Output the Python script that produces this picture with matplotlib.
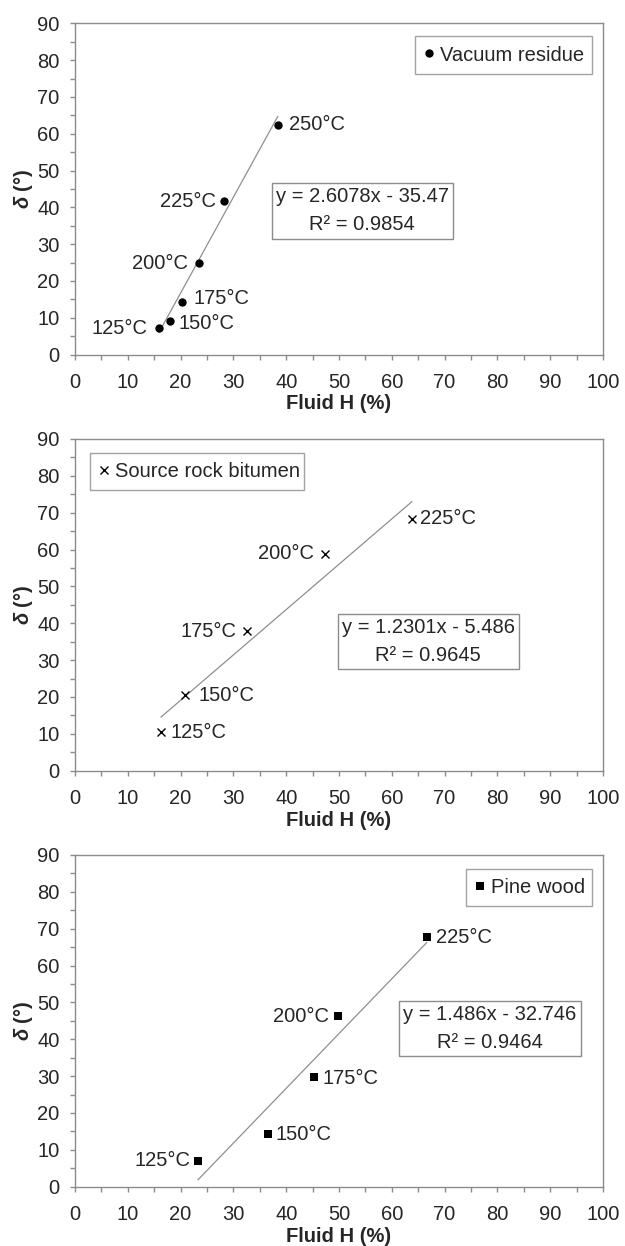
import matplotlib
matplotlib.use("Agg")
import matplotlib.pyplot as plt
import numpy as np
from matplotlib.ticker import MultipleLocator

FAM = 'Liberation Sans'
plt.rcParams['font.family'] = [FAM, 'DejaVu Sans']
plt.rcParams['mathtext.fontset'] = 'custom'
plt.rcParams['mathtext.it'] = FAM + ':italic:bold'
plt.rcParams['mathtext.rm'] = FAM + ':bold'
plt.rcParams['mathtext.bf'] = FAM + ':bold'

# ---------------- data ----------------
vr_temps = ["125°C", "150°C", "175°C", "200°C", "225°C", "250°C"]
vr_x = [15.9, 18.0, 20.3, 23.5, 28.2, 38.4]
vr_y = [7.3, 9.1, 14.2, 24.8, 41.7, 62.4]
vr_slope, vr_intercept, vr_r2 = 2.6078, -35.47, 0.9854
vr_eq = "y = 2.6078x - 35.47\nR² = 0.9854"

srb_temps = ["125°C", "150°C", "175°C", "200°C", "225°C"]
srb_x = [16.3, 20.8, 32.6, 47.4, 63.8]
srb_y = [10.4, 20.6, 37.9, 58.8, 68.3]
srb_slope, srb_intercept, srb_r2 = 1.2301, -5.486, 0.9645
srb_eq = "y = 1.2301x - 5.486\nR² = 0.9645"

pw_temps = ["125°C", "150°C", "175°C", "200°C", "225°C"]
pw_x = [23.3, 36.5, 45.3, 49.9, 66.6]
pw_y = [7.1, 14.2, 29.8, 46.2, 67.7]
pw_slope, pw_intercept, pw_r2 = 1.486, -32.746, 0.9464
pw_eq = "y = 1.486x - 32.746\nR² = 0.9464"

series_names = ["Vacuum residue", "Source rock bitumen", "Pine wood"]

# ---------------- styling ----------------
TXT = '#262626'
SPINE = '#8c8c8c'
LINE = '#8f8f8f'
FS = 14.5

fig = plt.figure(figsize=(6.25, 12.46), dpi=100)
W, H = 625, 1246

def ax_rect(left, top, right, bottom):
    return [left / W, 1 - bottom / H, (right - left) / W, (bottom - top) / H]

axes_px = [(75, 23.3, 603, 354.5), (75, 439, 603, 770.7), (75, 855, 603, 1186.7)]

panels = [
    dict(x=vr_x, y=vr_y, temps=vr_temps, slope=vr_slope, icpt=vr_intercept, eq=vr_eq,
         name=series_names[0], marker='o', ms=6, mew=0,
         offs=[(-11, -1, 'right'), (8, -2, 'left'), (11, 4, 'left'), (-11, 0, 'right'),
               (-8, 0, 'right'), (11, 0, 'left')],
         eqpos=(54.4, 39.0),
         leg=(415, 38.3, 592, 71.7)),
    dict(x=srb_x, y=srb_y, temps=srb_temps, slope=srb_slope, icpt=srb_intercept, eq=srb_eq,
         name=series_names[1], marker='x', ms=5.5, mew=1.0,
         offs=[(9, 0, 'left'), (14, -1, 'left'), (-11, 0, 'right'), (-11, 0, 'right'),
               (8.5, 0, 'left')],
         eqpos=(66.9, 35.1),
         leg=(90, 451.7, 304, 490.7)),
    dict(x=pw_x, y=pw_y, temps=pw_temps, slope=pw_slope, icpt=pw_intercept, eq=pw_eq,
         name=series_names[2], marker='s', ms=6, mew=0,
         offs=[(-8, 0, 'right'), (8, 0, 'left'), (8.5, -1.5, 'left'), (-9.5, 0, 'right'),
               (9, 0, 'left')],
         eqpos=(78.6, 42.8),
         leg=(466, 868.3, 592, 906.7)),
]

for (l, t, r, b), p in zip(axes_px, panels):
    ax = fig.add_axes(ax_rect(l, t, r, b))
    ax.set_xlim(0, 100)
    ax.set_ylim(0, 90)
    ax.xaxis.set_major_locator(MultipleLocator(10))
    ax.xaxis.set_minor_locator(MultipleLocator(5))
    ax.yaxis.set_major_locator(MultipleLocator(10))
    ax.yaxis.set_minor_locator(MultipleLocator(5))
    ax.tick_params(which='both', direction='out', length=3.6, width=1, color=SPINE,
                   labelsize=FS, labelcolor=TXT)
    ax.tick_params(axis='x', which='major', pad=9.5)
    ax.tick_params(axis='y', which='major', pad=7.5)
    for s in ax.spines.values():
        s.set_color(SPINE)
        s.set_linewidth(1.0)

    xs = np.array(p['x'])
    ys = np.array(p['y'])
    xl = np.array([xs.min(), xs.max()])
    ax.plot(xl, p['slope'] * xl + p['icpt'], color=LINE, lw=0.9, zorder=2)
    line, = ax.plot(xs, ys, linestyle='none', marker=p['marker'], ms=p['ms'],
                    color='black', mew=p['mew'], zorder=3, label=p['name'])

    for xi, yi, lab, (dx, dy, ha) in zip(xs, ys, p['temps'], p['offs']):
        ax.annotate(lab, (xi, yi), xytext=(dx * 0.72, dy * 0.72), textcoords='offset points',
                    ha=ha, va='center', fontsize=FS, color=TXT)

    ax.text(p['eqpos'][0], p['eqpos'][1], p['eq'], ha='center', va='center',
            multialignment='center', fontsize=FS, color=TXT, linespacing=1.6,
            bbox=dict(boxstyle='square,pad=0.2', fc='white', ec=SPINE, lw=1.0))

    lx0, ly0, lx1, ly1 = p['leg']
    bx = (lx0 - l) / (r - l)
    by = 1 - (ly1 - t) / (b - t)
    bw = (lx1 - lx0) / (r - l)
    bh = (ly1 - ly0) / (b - t)
    leg = ax.legend(handles=[line], loc='center', bbox_to_anchor=(bx, by, bw, bh),
                    frameon=True, fancybox=False, fontsize=FS, handlelength=0.5,
                    handletextpad=0.3, borderpad=0.45, borderaxespad=0, mode='expand',
                    labelcolor=TXT)
    leg.get_frame().set_edgecolor(SPINE)
    leg.get_frame().set_linewidth(1.0)

    ax.set_xlabel("Fluid H (%)", fontsize=FS, fontweight='bold', color=TXT, labelpad=2)
    ax.set_ylabel(r"$\delta$ (°)", fontsize=FS, fontweight='bold', color=TXT, labelpad=1.5)

fig.savefig("out.png", dpi=100)
